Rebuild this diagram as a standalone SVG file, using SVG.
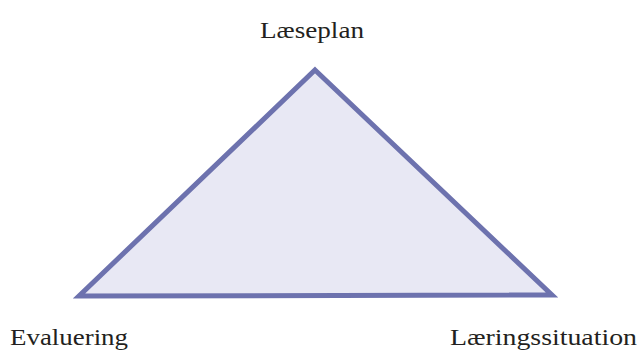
<svg xmlns="http://www.w3.org/2000/svg" width="641" height="354" viewBox="0 0 641 354">
<style>
.lbl{font-family:"Liberation Serif","Times New Roman",serif;font-size:24px;fill:#231f20}
.tri{fill:#e8e8f4;stroke:#6d72ae;stroke-width:5;stroke-linejoin:miter}
</style>
<rect width="641" height="354" fill="#ffffff"/>
<g id="connectors">
<polygon class="tri" points="315,70 552,295 79,296"/>
</g>
<g id="node-laeseplan"><text class="lbl" x="260" y="38" textLength="104" lengthAdjust="spacingAndGlyphs">Læseplan</text></g>
<g id="node-evaluering"><text class="lbl" x="10" y="345" textLength="118" lengthAdjust="spacingAndGlyphs">Evaluering</text></g>
<g id="node-laeringssituation"><text class="lbl" x="450" y="345" textLength="187" lengthAdjust="spacingAndGlyphs">Læringssituation</text></g>
</svg>
